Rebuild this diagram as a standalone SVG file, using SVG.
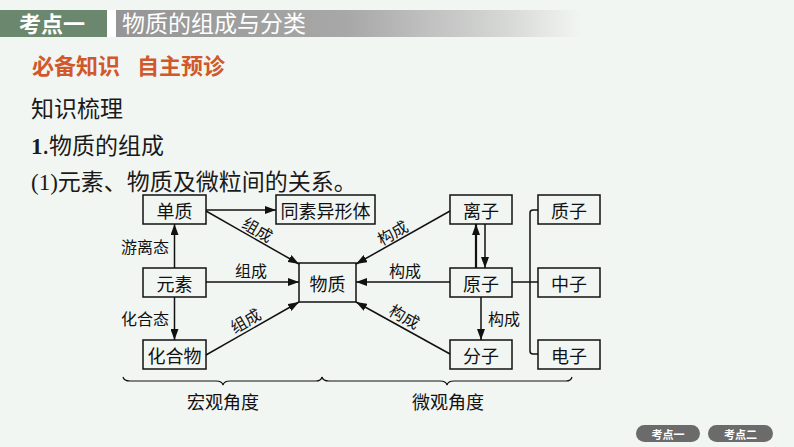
<svg xmlns="http://www.w3.org/2000/svg" width="794" height="447" viewBox="0 0 794 447">
<defs>
<linearGradient id="gbar" x1="0" y1="0" x2="1" y2="0">
<stop offset="0" stop-color="#959595"/>
<stop offset="0.5" stop-color="#a8a8a8"/>
<stop offset="0.85" stop-color="#d8dad8"/>
<stop offset="1" stop-color="#f2f6f3"/>
</linearGradient>
<marker id="ah" markerUnits="userSpaceOnUse" markerWidth="12" markerHeight="8" refX="11" refY="4" orient="auto">
<path d="M0,0 L11,4 L0,8 z" fill="#111"/>
</marker>
<style>
.box{fill:none;stroke:#111;stroke-width:1.5}
.bt{font-family:"Noto Sans CJK SC",sans-serif;font-size:18px;fill:#111;text-anchor:middle;dominant-baseline:central}
.lb{font-family:"Noto Sans CJK SC",sans-serif;font-size:16px;fill:#111;text-anchor:middle;dominant-baseline:central}
.ln{stroke:#111;stroke-width:1.5;fill:none}
.ar{stroke:#111;stroke-width:1.5;fill:none;marker-end:url(#ah)}
.body{font-family:"Noto Sans CJK SC",sans-serif;font-size:23px;fill:#1a1a1a}
</style>
</defs>
<rect width="794" height="447" fill="#f2f6f3"/>
<!-- header -->
<rect x="0" y="10" width="107" height="27" fill="#6b876d"/>
<rect x="107" y="10" width="9" height="27" fill="#ffffff"/>
<rect x="116" y="10" width="466" height="27" fill="url(#gbar)"/>
<text x="19" y="32" font-family="'Noto Sans CJK SC',sans-serif" font-size="22" font-weight="bold" fill="#ffffff">考点一</text>
<text x="122" y="32" font-family="'Noto Sans CJK SC',sans-serif" font-size="23" fill="#ffffff">物质的组成与分类</text>
<text x="32" y="74" font-family="'Noto Sans CJK SC',sans-serif" font-size="22" font-weight="bold" fill="#d0582a">必备知识<tspan x="137">自主预诊</tspan></text>
<text x="31" y="117" class="body">知识梳理</text>
<text x="31" y="154" class="body"><tspan font-family="'Liberation Serif',serif" font-weight="bold">1</tspan>.物质的组成</text>
<text x="31" y="190" class="body"><tspan font-family="'Liberation Serif',serif">(1)</tspan>元素、物质及微粒间的关系。</text>

<!-- connectors -->
<g id="connectors">
<line class="ar" x1="206" y1="210" x2="276" y2="210"/>
<line class="ar" x1="206" y1="211" x2="299" y2="264"/>
<line class="ar" x1="206" y1="282" x2="299" y2="282"/>
<line class="ar" x1="206" y1="355" x2="299" y2="302"/>
<line class="ar" x1="174.5" y1="268" x2="174.5" y2="224"/>
<line class="ar" x1="174.5" y1="297" x2="174.5" y2="340"/>
<line class="ar" x1="450" y1="211" x2="356" y2="264"/>
<line class="ar" x1="450" y1="282" x2="356" y2="282"/>
<line class="ar" x1="450" y1="354" x2="356" y2="302"/>
<line class="ar" x1="476" y1="268" x2="476" y2="224" style="stroke-width:2.2"/>
<line class="ar" x1="485" y1="224" x2="485" y2="268"/>
<line class="ar" x1="481" y1="297" x2="481" y2="340"/>
<path class="ln" d="M512,282 H538 M538,210 H533 Q530,210 530,213 V351 Q530,354 533,354 H538"/>
<text class="lb" transform="translate(258,229) rotate(30)">组成</text>
<text class="lb" x="251" y="270">组成</text>
<text class="lb" transform="translate(245,320) rotate(-30)">组成</text>
<text class="lb" x="145" y="246">游离态</text>
<text class="lb" x="145" y="318">化合态</text>
<text class="lb" transform="translate(392,232) rotate(-29)">构成</text>
<text class="lb" x="405" y="270">构成</text>
<text class="lb" transform="translate(405,316) rotate(29)">构成</text>
<text class="lb" x="504" y="318">构成</text>
</g>

<!-- nodes -->
<g id="danzhi"><rect class="box" x="143" y="195" width="63" height="29"/><text class="bt" x="174.5" y="209.5">单质</text></g>
<g id="tongsu"><rect class="box" x="276" y="195" width="99" height="29"/><text class="bt" x="325.5" y="209.5">同素异形体</text></g>
<g id="yuansu"><rect class="box" x="143" y="268" width="63" height="29"/><text class="bt" x="174.5" y="282.5">元素</text></g>
<g id="huahewu"><rect class="box" x="143" y="340" width="63" height="29"/><text class="bt" x="174.5" y="354.5">化合物</text></g>
<g id="wuzhi"><rect class="box" x="299" y="263" width="57" height="39"/><text class="bt" x="327.5" y="282.5">物质</text></g>
<g id="lizi"><rect class="box" x="450" y="195" width="62" height="29"/><text class="bt" x="481" y="209.5">离子</text></g>
<g id="yuanzi"><rect class="box" x="450" y="268" width="62" height="29"/><text class="bt" x="481" y="282.5">原子</text></g>
<g id="fenzi"><rect class="box" x="450" y="340" width="62" height="29"/><text class="bt" x="481" y="354.5">分子</text></g>
<g id="zhizi"><rect class="box" x="538" y="195" width="62" height="29"/><text class="bt" x="569" y="209.5">质子</text></g>
<g id="zhongzi"><rect class="box" x="538" y="268" width="62" height="29"/><text class="bt" x="569" y="282.5">中子</text></g>
<g id="dianzi"><rect class="box" x="538" y="340" width="62" height="29"/><text class="bt" x="569" y="354.5">电子</text></g>

<!-- braces -->
<g id="braces">
<path class="ln" style="stroke-width:1.2" d="M123,377 Q124,381 130,381 H216 Q222,381 223,385 Q224,381 230,381 H316 Q321,381 322,377"/>
<path class="ln" style="stroke-width:1.2" d="M322,377 Q323,381 329,381 H440 Q446,381 447,385 Q448,381 454,381 H566 Q571,381 572,377"/>
<text class="lb" x="223" y="401" style="font-size:18px">宏观角度</text>
<text class="lb" x="448" y="401" style="font-size:18px">微观角度</text>
</g>

<!-- bottom buttons -->
<g id="btn1"><rect x="636" y="425" width="64" height="17" rx="8.5" fill="#6b6b6b"/><text x="668" y="433.5" font-family="'Noto Sans CJK SC',sans-serif" font-size="11" font-weight="bold" fill="#fff" text-anchor="middle" dominant-baseline="central">考点一</text></g>
<g id="btn2"><rect x="708" y="425" width="65" height="17" rx="8.5" fill="#6b6b6b"/><text x="740.5" y="433.5" font-family="'Noto Sans CJK SC',sans-serif" font-size="11" font-weight="bold" fill="#fff" text-anchor="middle" dominant-baseline="central">考点二</text></g>
</svg>
